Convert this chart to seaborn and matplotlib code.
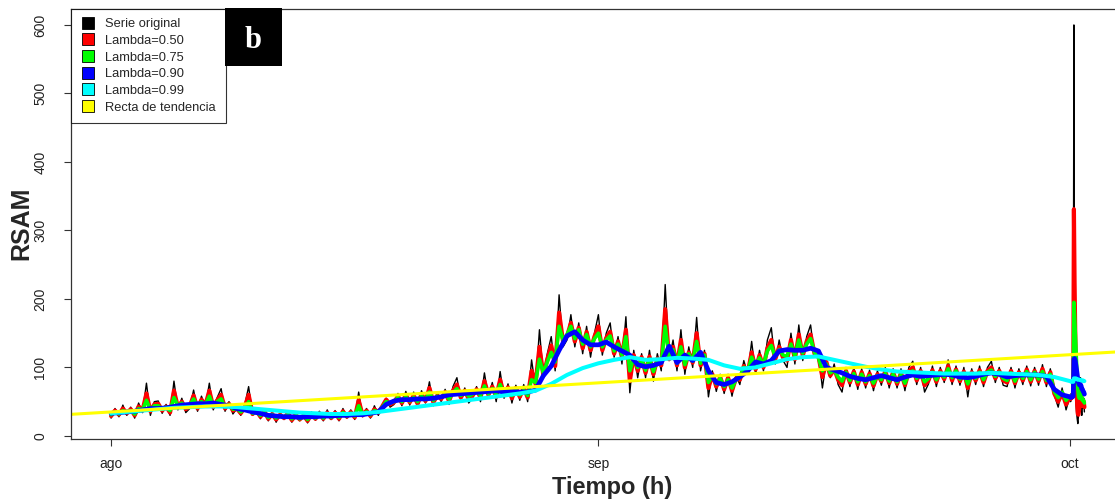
import numpy as np
import pandas as pd
import matplotlib
matplotlib.use("Agg")
import matplotlib.pyplot as plt
import matplotlib.dates as mdates
from matplotlib.lines import Line2D
from matplotlib.patches import Rectangle
import seaborn as sns

# --- data (RSAM, Aug 1 -> Oct 1) ---
# original series, one value every 6 h (00, 06, 12, 18 h), one row per day
serie_original = [
    [26, 40, 28, 45], [30, 42, 26, 48], [34, 77, 30, 50], [51, 33, 46, 30],
    [80, 38, 55, 34], [40, 67, 36, 58], [42, 77, 38, 56], [69, 36, 50, 32],
    [40, 30, 45, 72], [30, 40, 25, 38], [22, 35, 20, 33], [24, 36, 20, 34],
    [22, 33, 19, 35], [23, 36, 22, 38], [24, 37, 22, 40], [26, 38, 24, 64],
    [28, 40, 26, 44], [30, 45, 55, 42], [46, 62, 44, 65], [45, 64, 42, 66],
    [48, 79, 44, 63], [50, 68, 46, 72], [85, 52, 70, 48], [55, 72, 50, 92],
    [56, 78, 50, 94], [55, 76, 48, 74], [52, 75, 50, 111], [70, 155, 85, 120],
    [145, 95, 206, 130], [140, 177, 130, 165], [120, 160, 115, 150], [177, 118, 150, 165],
    [115, 145, 105, 174], [63, 125, 85, 120], [85, 125, 80, 120], [95, 221, 110, 140],
    [95, 155, 90, 130], [100, 173, 95, 125], [57, 95, 65, 90], [62, 90, 58, 88],
    [75, 110, 90, 138], [90, 125, 95, 140], [158, 105, 140, 110], [100, 150, 105, 162],
    [110, 145, 162, 115], [120, 70, 110, 85], [105, 75, 64, 100], [72, 100, 68, 98],
    [70, 96, 66, 95], [74, 100, 70, 98], [70, 98, 66, 100], [109, 75, 100, 64],
    [76, 102, 72, 100], [78, 111, 75, 102], [74, 100, 57, 98], [75, 102, 72, 100],
    [109, 78, 100, 74], [72, 100, 70, 98], [75, 102, 73, 100], [74, 104, 72, 98],
    [60, 42, 70, 38],
]
lambda_050 = [
    [29, 37, 31, 40], [33, 39, 30, 43], [37, 62, 36, 46], [47, 37, 43, 34],
    [66, 42, 50, 39], [43, 59, 40, 53], [45, 66, 42, 52], [60, 40, 47, 37],
    [40, 33, 42, 60], [32, 37, 28, 36], [25, 32, 24, 31], [26, 33, 23, 31],
    [24, 30, 22, 32], [25, 33, 25, 34], [26, 34, 25, 36], [28, 35, 27, 52],
    [30, 37, 29, 39], [34, 43, 53, 46], [49, 58, 48, 60], [49, 59, 47, 61],
    [51, 70, 49, 59], [54, 64, 51, 66], [75, 56, 66, 54], [59, 68, 56, 80],
    [60, 72, 57, 82], [59, 71, 55, 70], [57, 70, 56, 95], [76, 130, 88, 112],
    [132, 102, 180, 138], [145, 165, 138, 158], [128, 152, 125, 145], [160, 125, 143, 152],
    [120, 138, 115, 155], [80, 118, 95, 115], [92, 116, 90, 113], [103, 185, 112, 130],
    [103, 140, 100, 122], [107, 150, 103, 120], [70, 90, 72, 86], [68, 85, 66, 84],
    [82, 102, 92, 122], [97, 118, 100, 128], [140, 112, 130, 114], [110, 140, 112, 148],
    [117, 138, 148, 120], [116, 86, 108, 88], [98, 82, 74, 95], [78, 94, 75, 93],
    [76, 91, 73, 90], [80, 94, 77, 93], [76, 92, 74, 94], [100, 81, 95, 74],
    [81, 96, 79, 95], [83, 102, 81, 97], [80, 94, 70, 93], [81, 96, 78, 95],
    [100, 84, 95, 81], [78, 95, 77, 93], [81, 97, 79, 95], [80, 98, 78, 93],
    [62, 50, 63, 46],
]
lambda_075 = [
    [31, 35, 32, 37], [34, 37, 32, 40], [38, 52, 38, 44], [44, 39, 42, 37],
    [56, 44, 48, 42], [45, 54, 43, 50], [46, 58, 44, 50], [54, 42, 46, 39],
    [40, 35, 40, 50], [33, 35, 30, 34], [27, 31, 26, 30], [27, 31, 25, 30],
    [25, 29, 24, 30], [26, 31, 26, 32], [27, 32, 27, 34], [29, 33, 29, 44],
    [31, 35, 31, 37], [35, 42, 50, 48], [50, 56, 50, 57], [51, 56, 50, 58],
    [53, 64, 52, 58], [56, 61, 54, 63], [69, 59, 63, 58], [61, 66, 59, 73],
    [62, 69, 60, 75], [61, 68, 59, 67], [60, 67, 59, 82], [78, 112, 92, 108],
    [122, 108, 160, 140], [148, 160, 142, 155], [134, 148, 130, 142], [150, 130, 140, 146],
    [124, 134, 118, 145], [95, 114, 100, 112], [96, 112, 94, 110], [106, 160, 115, 126],
    [106, 130, 104, 120], [109, 138, 106, 118], [78, 88, 76, 84], [72, 82, 70, 82],
    [85, 100, 94, 115], [102, 114, 104, 124], [132, 116, 126, 118], [116, 134, 117, 140],
    [121, 134, 142, 122], [114, 95, 105, 92], [96, 86, 80, 93], [81, 91, 79, 90],
    [79, 88, 77, 88], [82, 91, 80, 90], [79, 89, 77, 91], [95, 84, 92, 79],
    [84, 93, 82, 92], [86, 98, 85, 95], [83, 91, 76, 90], [84, 93, 82, 93],
    [96, 87, 93, 84], [81, 92, 80, 91], [84, 94, 82, 93], [83, 94, 81, 90],
    [65, 56, 64, 52],
]
# lambda 0.90: two values per day (00, 12 h)
lambda_090 = [
    [33, 34], [35, 36], [38, 40], [40, 41], [43, 45], [46, 47], [47, 48], [46, 44],
    [40, 38], [35, 33], [30, 29], [28, 28], [27, 28], [28, 29], [29, 30], [30, 31],
    [31, 33], [35, 46], [51, 53], [53, 54], [54, 55], [57, 60], [61, 62], [63, 64],
    [65, 66], [64, 65], [64, 64], [67, 88], [102, 125], [146, 152], [140, 133], [133, 137],
    [130, 124], [118, 104], [101, 103], [107, 131], [107, 118], [110, 122], [95, 78], [75, 79],
    [86, 95], [108, 105], [110, 124], [126, 125], [125, 128], [124, 100], [96, 92], [87, 84],
    [82, 85], [88, 85], [82, 86], [89, 87], [88, 89], [90, 89], [86, 85], [87, 90],
    [92, 90], [86, 88], [89, 89], [89, 87], [68, 60],
]
# lambda 0.99: one value per day (00 h)
lambda_099 = [
    33, 35, 37, 39, 41, 42, 43, 43, 42, 40, 38, 36, 34, 33, 32, 32,
    33, 35, 38, 41, 44, 47, 50, 53, 56, 59, 62, 66, 76, 89, 99, 106,
    111, 115, 111, 112, 114, 113, 111, 103, 98, 100, 106, 112, 115, 116, 111, 106,
    101, 97, 94, 93, 92, 91, 91, 91, 92, 91, 90, 89, 86,
]
# Oct 1, hourly 00..22 h (the explosive peak)
tail_original = [58, 50, 62, 54, 60, 66, 600, 120, 80, 50, 35, 25, 18, 30, 45, 62, 85, 50, 30, 60, 40, 55, 35]
tail_050 = [57, 54, 58, 56, 58, 62, 331, 225, 152, 101, 68, 46, 32, 31, 38, 50, 67, 58, 44, 52, 46, 50, 42]
tail_075 = [58, 56, 58, 57, 58, 60, 195, 176, 152, 127, 104, 84, 68, 58, 55, 57, 64, 60, 53, 55, 51, 52, 48]
tail_090 = [57, 56, 57, 57, 57, 58, 112, 113, 110, 104, 97, 90, 83, 78, 75, 74, 75, 73, 69, 68, 65, 64, 61]
tail_099 = [80, 80, 79, 79, 79, 79, 84, 84, 84, 84, 83, 83, 82, 82, 82, 82, 82, 81, 81, 81, 81, 80, 80]

# trend line (Recta de tendencia): value at Aug 1 and slope per day
trend_intercept = 35.0
trend_slope = 1.37

legend_labels = ["Serie original", "Lambda=0.50", "Lambda=0.75",
                 "Lambda=0.90", "Lambda=0.99", "Recta de tendencia"]
tick_dates = ["2015-08-01", "2015-09-01", "2015-10-01"]
tick_labels = ["ago", "sep", "oct"]


def build(values, freq, tail):
    vals = np.ravel(values)
    t = pd.date_range("2015-08-01", periods=len(vals), freq=freq)
    t_tail = pd.date_range("2015-10-01", periods=len(tail), freq="h")
    return pd.DataFrame({"t": t.append(t_tail), "v": np.concatenate([vals, tail])})


series = [
    (build(serie_original, "6h", tail_original), "black", 1.0),
    (build(lambda_050, "6h", tail_050), "#FF0000", 3.0),
    (build(lambda_075, "6h", tail_075), "#00FF00", 2.6),
    (build(lambda_090, "12h", tail_090), "#0000FF", 3.4),
    (build(lambda_099, "D", tail_099), "#00FFFF", 2.9),
]

sns.set_style("white")
plt.rcParams["font.family"] = ["Liberation Sans", "DejaVu Sans"]

fig = plt.figure(figsize=(11.15, 5.0), dpi=100)
ax = fig.add_axes([71 / 1115, 61 / 500, 1054 / 1115, 430.5 / 500])

for df, color, lw in series:
    sns.lineplot(data=df, x="t", y="v", ax=ax, color=color, linewidth=lw,
                 estimator=None, legend=False)

start = mdates.date2num(pd.Timestamp("2015-08-01"))
ax.axline((start, trend_intercept), slope=trend_slope, color="#FFFF00", linewidth=2.2)

ax.set_xlim(start - 2.55, start + 64.5)
ax.set_ylim(-4.5, 624)

ax.set_xticks([mdates.date2num(pd.Timestamp(d)) for d in tick_dates])
ax.set_xticklabels(tick_labels, fontsize=10, color="#222222")
ax.set_yticks([0, 100, 200, 300, 400, 500, 600])
ax.set_yticklabels(["0", "100", "200", "300", "400", "500", "600"],
                   fontsize=10, rotation=90, va="center", color="#222222")
ax.tick_params(axis="both", direction="out", length=5, width=0.8, color="#333333",
               bottom=True, left=True)
ax.tick_params(axis="x", pad=8)
ax.tick_params(axis="y", pad=12)
for s in ax.spines.values():
    s.set_color("#333333")
    s.set_linewidth(0.9)

ax.set_xlabel("Tiempo (h)", fontsize=17, fontweight="bold")
ax.set_ylabel("RSAM", fontsize=18, fontweight="bold")
ax.xaxis.set_label_coords((612 - 71) / 1054, -37 / 430.5)
ax.yaxis.set_label_coords(-38 / 1054, 0.5)

handles = [Line2D([], [], marker="s", linestyle="none", markersize=8,
                  markerfacecolor=c, markeredgecolor="black", markeredgewidth=0.6)
           for c in ["black", "#FF0000", "#00FF00", "#0000FF", "#00FFFF", "#FFFF00"]]
leg = ax.legend(handles, legend_labels, loc="upper left", bbox_to_anchor=(0, 1),
                borderaxespad=0, fontsize=9.3, frameon=True, fancybox=False,
                labelspacing=0.36, handletextpad=0.7, borderpad=0.75, handlelength=1.2)
leg.get_frame().set_edgecolor("black")
leg.get_frame().set_linewidth(0.8)

# panel letter
fig.add_artist(Rectangle((225 / 1115, 1 - 66 / 500), 57 / 1115, 58 / 500,
                         transform=fig.transFigure, facecolor="black", edgecolor="none"))
fig.text(253 / 1115, 1 - 40 / 500, "b", color="white", fontsize=22, fontweight="bold",
         family="Liberation Serif", ha="center", va="center")

fig.savefig("out.png", dpi=100)
